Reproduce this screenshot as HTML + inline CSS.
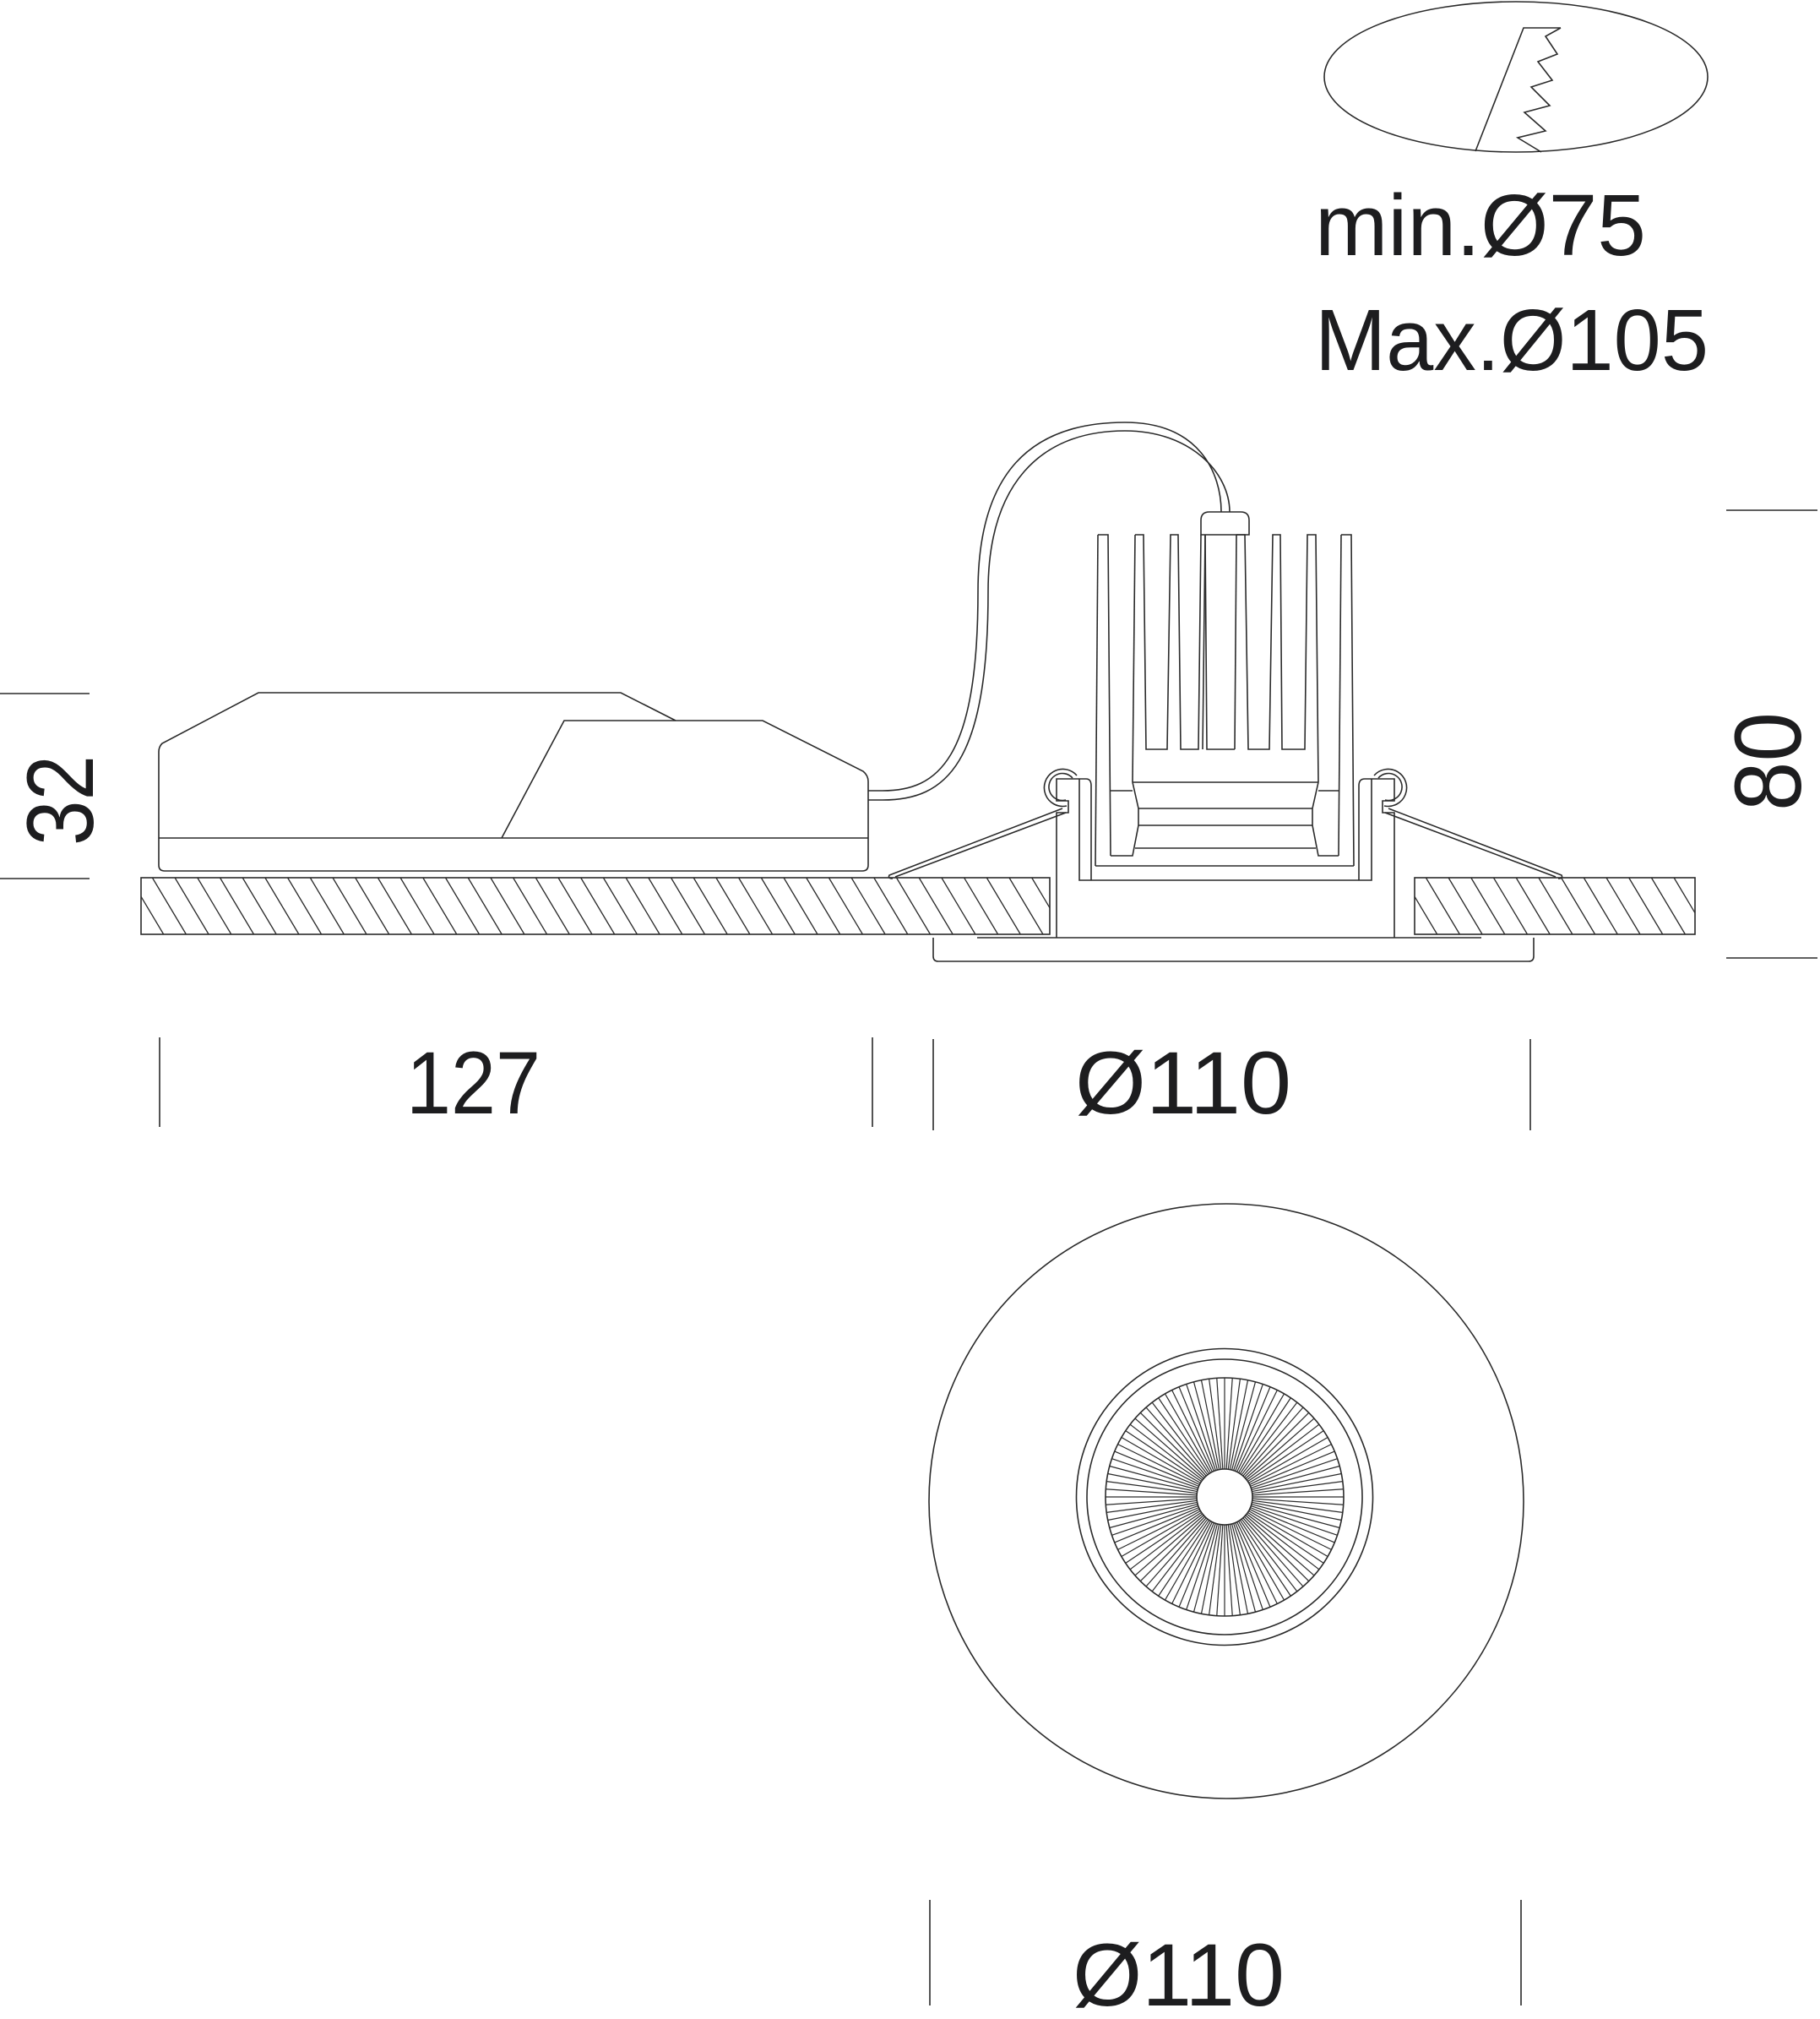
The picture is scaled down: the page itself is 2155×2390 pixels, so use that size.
<!DOCTYPE html>
<html><head><meta charset="utf-8"><style>
html,body{margin:0;padding:0;background:#fff;}
svg{display:block}
text{font-family:"Liberation Sans",sans-serif;fill:#1d1d1f}
</style></head><body>
<svg id="s" width="2155" height="2390" viewBox="0 0 2155 2390" xmlns="http://www.w3.org/2000/svg">
<g fill="none" stroke="#2a2a2a" stroke-width="1.6">
<!-- top ellipse with saw -->
<ellipse cx="1795" cy="91" rx="227" ry="89"/>
<polyline points="1848,33 1804,33 1747,179"/>
<polyline points="1848,33 1830,43 1844,64 1821,73 1838,95 1813,103 1835,125 1805,133 1830,155 1797,163 1825,180"/>

<!-- dimension ticks -->
<line x1="0" y1="821" x2="106" y2="821"/>
<line x1="0" y1="1040" x2="106" y2="1040"/>
<line x1="2044" y1="604" x2="2152" y2="604"/>
<line x1="2044" y1="1134" x2="2152" y2="1134"/>
<line x1="189" y1="1228" x2="189" y2="1334"/>
<line x1="1033" y1="1228" x2="1033" y2="1334"/>
<line x1="1105" y1="1230" x2="1105" y2="1338"/>
<line x1="1812" y1="1230" x2="1812" y2="1338"/>
<line x1="1101" y1="2249" x2="1101" y2="2374"/>
<line x1="1801" y1="2249" x2="1801" y2="2374"/>

<!-- driver box -->
<path d="M188,890 L188,1024 Q188,1031 195,1031 L1021,1031 Q1028,1031 1028,1024 L1028,925 Q1028,918 1022,913 L903,853 L668,853 L594,992"/>
<path d="M188,890 Q188,884 192,880 L306,820 L735,820 L800,853"/>
<line x1="188" y1="992" x2="1028" y2="992"/>

<!-- cable -->
<path d="M1028,936 L1045,936 C1110,936 1158,900 1158,700 C1158,560 1220,500 1332,500 C1420,500 1446,560 1446,606"/>
<path d="M1028,947 L1045,947 C1120,947 1170,905 1170,700 C1170,575 1230,510 1332,510 C1410,510 1456,560 1456,606"/>
<path d="M1422,633 L1422,616 Q1422,606 1432,606 L1469,606 Q1479,606 1479,616 L1479,633 Z"/>

<!-- heatsink -->
<path d="M1300,633 L1312,633 L1315,1013"/>
<path d="M1300,633 L1297,1025"/>
<path d="M1588,633 L1600,633 L1603,1025"/>
<path d="M1588,633 L1585,1013"/>
<path d="M1344,633 L1341,926"/>
<path d="M1344,633 L1354,633 L1357,887 L1382,887 L1386,633 L1395,633 L1398,887 L1419,887 L1422,633"/>
<path d="M1427,633 L1424,887"/>
<path d="M1464,633 L1462,887"/>
<path d="M1427,633 L1429,887 L1462,887"/>
<path d="M1464,633 L1474,633 L1478,887 L1503,887 L1507,633 L1516,633 L1518,887 L1545,887 L1548,633 L1558,633 L1561,926"/>
<line x1="1341" y1="926" x2="1561" y2="926"/>
<path d="M1341,926 L1348,957 L1348,977 L1341,1013 L1315,1013"/>
<path d="M1561,926 L1554,957 L1554,977 L1561,1013 L1585,1013"/>
<line x1="1315" y1="936" x2="1341" y2="936"/>
<line x1="1561" y1="936" x2="1585" y2="936"/>
<line x1="1348" y1="957" x2="1554" y2="957"/>
<line x1="1348" y1="977" x2="1554" y2="977"/>
<line x1="1344" y1="1004" x2="1558" y2="1004"/>
<line x1="1297" y1="1025" x2="1603" y2="1025"/>
<!-- cup -->
<path d="M1278,922 L1286,922 Q1292,922 1292,930 L1292,1042"/>
<path d="M1624,922 L1616,922 Q1609,922 1609,930 L1609,1042"/>
<path d="M1278,922 L1278,1042 L1624,1042 L1624,922"/>
<path d="M1251,1110 L1251,962 L1265,962 L1265,948 L1251,948 L1251,922 L1278,922"/>
<path d="M1651,1110 L1651,962 L1637,962 L1637,948 L1651,948 L1651,922 L1624,922"/>
<!-- clips -->
<path d="M1263,954 A22,22 0 1 1 1275,918"/>
<path d="M1262,947 A16,16 0 1 1 1270,921"/>
<path d="M1639,954 A22,22 0 1 0 1627,918"/>
<path d="M1640,947 A16,16 0 1 0 1632,921"/>
<path d="M1258,957 L1053,1036 Q1051,1040 1057,1040"/>
<path d="M1262,962 L1060,1038"/>
<path d="M1644,957 L1849,1036 Q1851,1040 1845,1040"/>
<path d="M1640,962 L1842,1038"/>

<!-- slabs -->
<rect x="167" y="1039" width="1076" height="67"/>
<rect x="1675" y="1039" width="332" height="67"/>
<g id="hatch" stroke-width="1.3"></g>
<!-- trim -->
<line x1="1157" y1="1110" x2="1754" y2="1110"/>
<path d="M1105,1110 L1105,1132 Q1105,1138 1111,1138 L1810,1138 Q1816,1138 1816,1132 L1816,1110"/>

<!-- plan view -->
<circle cx="1452" cy="1777" r="352"/>
<circle cx="1450" cy="1772" r="175.5"/>
<circle cx="1450" cy="1772" r="163"/>
<circle cx="1450" cy="1772" r="141"/>
<circle cx="1450" cy="1772" r="33"/>
<g id="rad" stroke-width="1.2"></g>
</g>

<text x="1557" y="302" font-size="103" textLength="392" lengthAdjust="spacingAndGlyphs">min.Ø75</text>
<text x="1557" y="438" font-size="103" textLength="466" lengthAdjust="spacingAndGlyphs">Max.Ø105</text>
<text x="481" y="1318" font-size="105" textLength="159" lengthAdjust="spacingAndGlyphs">127</text>
<text x="1273" y="1318" font-size="105" textLength="256" lengthAdjust="spacingAndGlyphs">Ø110</text>
<text x="1270" y="2374" font-size="105" textLength="251" lengthAdjust="spacingAndGlyphs">Ø110</text>
<text transform="translate(110,1001) rotate(-90)" font-size="112" textLength="107" lengthAdjust="spacingAndGlyphs">32</text>
<text transform="translate(2132,960) rotate(-90)" font-size="112" textLength="117" lengthAdjust="spacingAndGlyphs">80</text>
</svg>
<script>
(function(){
var ns="http://www.w3.org/2000/svg";
var h=document.getElementById("hatch");
var D=40;
function hatch(x0,x1){
  for(var x=x0-D;x<x1;x+=26.7){
    var ax=x,ay=1039,bx=x+D;
    var t0=0,t1=1;
    if(ax<x0){t0=(x0-ax)/D;}
    if(bx>x1){t1=(x1-ax)/D;}
    if(t0>=t1)continue;
    var l=document.createElementNS(ns,"line");
    l.setAttribute("x1",ax+D*t0);l.setAttribute("y1",ay+67*t0);
    l.setAttribute("x2",ax+D*t1);l.setAttribute("y2",ay+67*t1);
    h.appendChild(l);
  }
}
hatch(167,1243);hatch(1675,2007);
var r=document.getElementById("rad");
for(var i=0;i<96;i++){
  var a=i*Math.PI*2/96;
  var c=Math.cos(a),s=Math.sin(a);
  var l=document.createElementNS(ns,"line");
  l.setAttribute("x1",1450+33*c);l.setAttribute("y1",1772+33*s);
  l.setAttribute("x2",1450+141*c);l.setAttribute("y2",1772+141*s);
  r.appendChild(l);
}
})();
</script>
</body></html>
